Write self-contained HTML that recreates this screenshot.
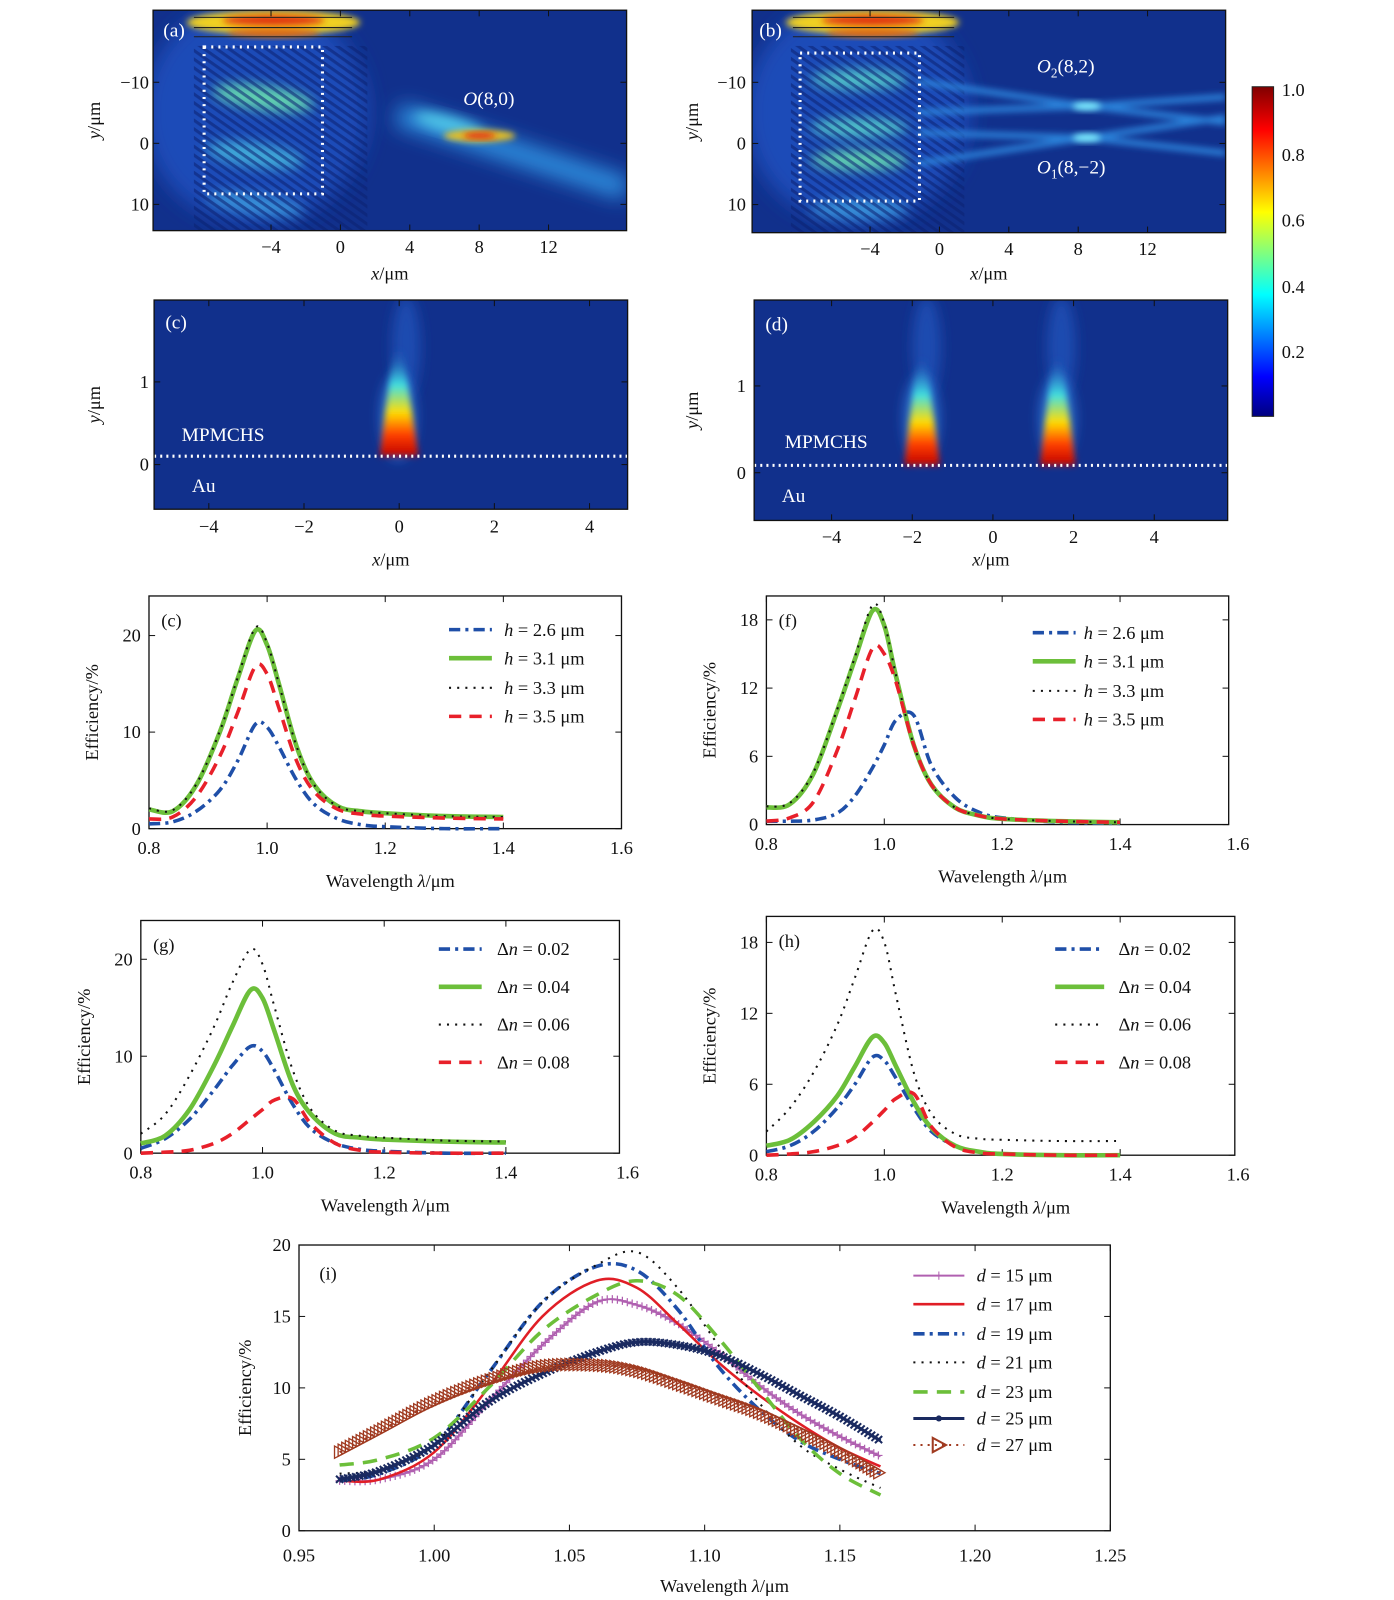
<!DOCTYPE html>
<html><head><meta charset="utf-8">
<style>
html,body{margin:0;padding:0;background:#fff;}
svg{display:block;font-family:"Liberation Serif",serif;}
</style></head>
<body>
<svg id="fig" xmlns="http://www.w3.org/2000/svg" width="1394" height="1600" viewBox="0 0 1394 1600">
<defs>
<filter id="b3" x="-50%" y="-50%" width="200%" height="200%"><feGaussianBlur stdDeviation="3"/></filter>
<filter id="b6" x="-50%" y="-50%" width="200%" height="200%"><feGaussianBlur stdDeviation="6"/></filter>
<filter id="b10" x="-50%" y="-50%" width="200%" height="200%"><feGaussianBlur stdDeviation="10"/></filter>
<clipPath id="ca"><rect x="150" y="10" width="464" height="216"/></clipPath>
<clipPath id="cb"><rect x="737" y="10" width="464" height="218"/></clipPath>
<clipPath id="cc"><rect x="151" y="294" width="464" height="205"/></clipPath>
<clipPath id="cd"><rect x="739" y="294" width="464" height="216"/></clipPath>
<pattern id="fringe" width="7" height="7" patternUnits="userSpaceOnUse" patternTransform="rotate(35)">
<rect width="7" height="3" fill="#0a2070" opacity="0.55"/>
</pattern>
<linearGradient id="jet" x1="0" y1="1" x2="0" y2="0">
<stop offset="0" stop-color="#00007f"/><stop offset="0.12" stop-color="#0000ff"/><stop offset="0.37" stop-color="#00ffff"/><stop offset="0.62" stop-color="#ffff00"/><stop offset="0.87" stop-color="#ff0000"/><stop offset="1" stop-color="#800000"/>
</linearGradient>
<linearGradient id="spot" x1="0" y1="1" x2="0" y2="0">
<stop offset="0" stop-color="#c00000"/><stop offset="0.2" stop-color="#ff4000"/><stop offset="0.4" stop-color="#ffdd00"/><stop offset="0.65" stop-color="#40e0e0"/><stop offset="1" stop-color="#2050c0" stop-opacity="0"/>
</linearGradient>
</defs>
<g id="root" transform="scale(1.0205)">

<!-- Panel (a) -->
<g>
<g clip-path="url(#ca)">
<rect x="150" y="10" width="464" height="216" fill="#11308c"/>
<ellipse cx="250" cy="110" rx="110" ry="110" fill="#1c4cb8" filter="url(#b10)"/>
<ellipse cx="268" cy="22" rx="85" ry="12" fill="#f0d020" filter="url(#b3)"/>
<ellipse cx="268" cy="20" rx="50" ry="5" fill="#e03010" filter="url(#b3)"/>
<ellipse cx="268" cy="32" rx="45" ry="4" fill="#e06010" filter="url(#b3)"/>
<line x1="190" y1="17" x2="345" y2="17" stroke="#202020" stroke-width="1"/>
<line x1="190" y1="27" x2="345" y2="27" stroke="#202020" stroke-width="1"/>
<line x1="190" y1="36" x2="345" y2="36" stroke="#202020" stroke-width="1"/>
<ellipse cx="258" cy="96" rx="50" ry="12" fill="#60d0b0" filter="url(#b6)" transform="rotate(8 258 96)"/>
<ellipse cx="250" cy="152" rx="48" ry="12" fill="#40a8d8" filter="url(#b6)" transform="rotate(8 250 152)"/>
<ellipse cx="250" cy="200" rx="48" ry="10" fill="#3890d8" filter="url(#b6)" transform="rotate(8 250 200)"/>
<rect x="190" y="45" width="170" height="181" fill="url(#fringe)"/>
<line x1="390" y1="112" x2="614" y2="185" stroke="#2e90e0" stroke-width="22" filter="url(#b10)"/>
<ellipse cx="440" cy="122" rx="35" ry="8" fill="#50c8e8" filter="url(#b6)" transform="rotate(15 440 122)"/>
<ellipse cx="470" cy="133" rx="35" ry="6" fill="#e8c020" filter="url(#b3)"/>
<ellipse cx="470" cy="133" rx="16" ry="3" fill="#e02010" filter="url(#b3)"/>
<rect x="200" y="46" width="116" height="144" fill="none" stroke="#fff" stroke-width="3" stroke-dasharray="2 5"/>
</g>
<text x="160" y="36" fill="#fff" font-size="19">(a)</text>
<text x="454" y="103" fill="#fff" font-size="19"><tspan font-style="italic">O</tspan>(8,0)</text>
</g>

<!-- Panel (b) -->
<g>
<g clip-path="url(#cb)">
<rect x="737" y="10" width="464" height="218" fill="#11308c"/>
<ellipse cx="840" cy="110" rx="110" ry="110" fill="#1c4cb8" filter="url(#b10)"/>
<ellipse cx="855" cy="22" rx="85" ry="12" fill="#f0d020" filter="url(#b3)"/>
<ellipse cx="855" cy="20" rx="50" ry="5" fill="#e03010" filter="url(#b3)"/>
<ellipse cx="855" cy="32" rx="45" ry="4" fill="#e06010" filter="url(#b3)"/>
<line x1="777" y1="17" x2="935" y2="17" stroke="#202020"/>
<line x1="777" y1="27" x2="935" y2="27" stroke="#202020"/>
<line x1="777" y1="36" x2="935" y2="36" stroke="#202020"/>
<ellipse cx="842" cy="78" rx="48" ry="10" fill="#50c0c8" filter="url(#b6)"/>
<ellipse cx="842" cy="125" rx="48" ry="10" fill="#50c0c8" filter="url(#b6)"/>
<ellipse cx="842" cy="157" rx="48" ry="10" fill="#60d0b0" filter="url(#b6)"/>
<ellipse cx="842" cy="205" rx="48" ry="10" fill="#3890d8" filter="url(#b6)"/>
<rect x="775" y="45" width="170" height="183" fill="url(#fringe)"/>
<path d="M900 80 L1065 104 L1201 95 M900 160 L1065 135 L1201 150 M900 110 L1065 104 L1201 120 M900 130 L1065 135 L1201 115" stroke="#2a80d8" stroke-width="6" fill="none" filter="url(#b3)"/>
<ellipse cx="1065" cy="104" rx="14" ry="4" fill="#80f0ff" filter="url(#b3)"/>
<ellipse cx="1065" cy="135" rx="14" ry="4" fill="#80f0ff" filter="url(#b3)"/>
<rect x="784" y="52" width="117" height="145" fill="none" stroke="#fff" stroke-width="3" stroke-dasharray="2 5"/>
</g>
<text x="744" y="36" fill="#fff" font-size="19">(b)</text>
<text x="1016" y="71" fill="#fff" font-size="19"><tspan font-style="italic">O</tspan><tspan font-size="13" dy="5">2</tspan><tspan dy="-5">(8,2)</tspan></text>
<text x="1016" y="170" fill="#fff" font-size="19"><tspan font-style="italic">O</tspan><tspan font-size="13" dy="5">1</tspan><tspan dy="-5">(8,−2)</tspan></text>
</g>

<!-- Colorbar -->
<g>
<rect x="1227" y="85" width="21" height="323" fill="url(#jet)" stroke="#222" stroke-width="1"/>
<g font-size="18" fill="#111">
<text x="1256" y="94">1.0</text><text x="1256" y="158">0.8</text><text x="1256" y="222">0.6</text><text x="1256" y="287">0.4</text><text x="1256" y="351">0.2</text>
</g>
</g>

<!-- Panel (c) top -->
<g>
<g clip-path="url(#cc)">
<rect x="151" y="294" width="464" height="205" fill="#11308c"/>
<ellipse cx="398" cy="340" rx="14" ry="50" fill="#1e4cb0" filter="url(#b6)"/>
<ellipse cx="390" cy="408" rx="17" ry="42" fill="#2a70d0" filter="url(#b6)"/>
<path d="M372 447 L386 340 L394 340 L410 447 Z" fill="url(#spot)" filter="url(#b3)"/>
<line x1="151" y1="447" x2="615" y2="447" stroke="#fff" stroke-width="3" stroke-dasharray="2 4"/>
</g>
<text x="162" y="322" fill="#fff" font-size="19">(c)</text>
<text x="178" y="432" fill="#fff" font-size="19">MPMCHS</text>
<text x="188" y="482" fill="#fff" font-size="19">Au</text>
</g>

<!-- Panel (d) -->
<g>
<g clip-path="url(#cd)">
<rect x="739" y="294" width="464" height="216" fill="#11308c"/>
<ellipse cx="908" cy="340" rx="14" ry="50" fill="#1e4cb0" filter="url(#b6)"/>
<ellipse cx="1040" cy="340" rx="14" ry="50" fill="#1e4cb0" filter="url(#b6)"/>
<ellipse cx="903" cy="410" rx="17" ry="42" fill="#2a70d0" filter="url(#b6)"/>
<ellipse cx="1036" cy="410" rx="17" ry="42" fill="#2a70d0" filter="url(#b6)"/>
<path d="M886 456 L899 350 L907 350 L921 456 Z" fill="url(#spot)" filter="url(#b3)"/>
<path d="M1019 456 L1032 350 L1040 350 L1054 456 Z" fill="url(#spot)" filter="url(#b3)"/>
<line x1="739" y1="456" x2="1203" y2="456" stroke="#fff" stroke-width="3" stroke-dasharray="2 4"/>
</g>
<text x="750" y="324" fill="#fff" font-size="19">(d)</text>
<text x="769" y="439" fill="#fff" font-size="19">MPMCHS</text>
<text x="766" y="492" fill="#fff" font-size="19">Au</text>
</g>
</g>
</svg>

<script>
// ---------- data ----------
const lam = [0.8,0.84,0.88,0.92,0.95,0.98,1.0,1.02,1.05,1.08,1.12,1.16,1.2,1.3,1.4];
const eH26 = [0.5,0.7,1.8,4,7,10.8,10.5,8.5,5,2.5,1,0.4,0.2,0,0];
const eH31 = [2,1.8,4.5,10,15.5,20.5,19,15,8.5,4.5,2.3,1.8,1.6,1.3,1.2];
const eH33 = [2.1,1.9,4.6,10.1,15.6,20.8,19.2,15,8.5,4.5,2.3,1.8,1.6,1.3,1.2];
const eH35 = [1,1.2,3.3,7.5,12,16.8,16,12.5,7,3.8,2,1.5,1.3,1.1,1];
const fH26 = [0.3,0.3,0.4,1,2.5,5,7,9.2,9.6,5.2,2.4,1.1,0.6,0.2,0.1];
const fH31 = [1.5,1.8,4.5,10,14.5,18.8,17.5,13,7,3.5,1.5,0.8,0.5,0.3,0.2];
const fH33 = [1.6,1.9,4.6,10.1,14.7,19.3,17.7,13.1,7,3.5,1.5,0.8,0.5,0.3,0.2];
const fH35 = [0.3,0.6,2,6.5,11,15.5,15,12.5,7,3.5,1.5,0.8,0.5,0.3,0.2];
const gN02 = [0.5,1.5,3.5,6.5,9,11,10.5,8.5,5,2.5,1,0.4,0.2,0,0];
const gN04 = [1,1.8,4.5,9,13,16.8,16,12.5,7,4,2,1.6,1.4,1.2,1.1];
const gN06 = [2,4,8,13,17.5,21,19.5,15,8.5,4.5,2.3,1.8,1.6,1.3,1.2];
const gN08 = [0,0.1,0.3,1,2,3.5,4.5,5.5,5.6,3,1,0.3,0.1,0,0];
const hN02 = [0.3,0.8,2,4,6,8.3,8,6.5,4,2,0.8,0.3,0.1,0,0];
const hN04 = [0.8,1.3,2.8,5,7.5,10,9.5,7.5,4.5,2.3,0.8,0.3,0.1,0,0];
const hN06 = [2,4,7,11,15,19,18,13.5,7,3.5,1.8,1.4,1.3,1.2,1.2];
const hN08 = [0,0.1,0.3,0.8,1.5,2.8,3.8,4.8,5.2,2.4,0.7,0.2,0.1,0,0];
const lamI = [0.965,0.98,1.0,1.02,1.04,1.06,1.075,1.09,1.105,1.12,1.135,1.15,1.165];
const d15 = [3.5,3.6,5,9,13,16,15.8,14.5,12.5,10.2,8.2,6.6,5.2];
const d17 = [3.5,3.6,5.5,10,15,17.5,17,14.5,11.8,9.5,7.5,5.8,4.5];
const d19 = [3.5,4,6,11,16,18.5,18.2,15.5,11.5,8.5,6.3,5,4];
const d21 = [4,4.3,6,11,16,18.6,19.5,17,13,9,6,4.3,3];
const d23 = [4.6,5,6.5,10,14,16.5,17.5,16.5,13.5,10,6.5,4,2.5];
const d25 = [3.6,4.2,6,9,11,12.5,13.2,13,12.3,11,9.5,8,6.3];
const d27 = [5.5,7,9,10.5,11.5,11.6,11.2,10.3,9.3,8.3,7,5.6,4];
const lamTicks = [0.8,1.0,1.2,1.4,1.6];
const lamTickLabels = ['0.8','1.0','1.2','1.4','1.6'];
const eYTicks = [0,10,20];
const fYTicks = [0,6,12,18];
const iXTicks = [0.95,1.0,1.05,1.1,1.15,1.2,1.25];
const iXTickLabels = ['0.95','1.00','1.05','1.10','1.15','1.20','1.25'];
const iYTicks = [0,5,10,15,20];
const hLabels = ['2.6','3.1','3.3','3.5'];
const nLabels = ['0.02','0.04','0.06','0.08'];
const dLabels = ['15','17','19','21','23','25','27'];
const abYTicks = [-10,0,10];
const abXTicks = [-4,0,4,8,12];
const cdYTicks = [0,1];
const cdXTicks = [-4,-2,0,2,4];

const NS = 'http://www.w3.org/2000/svg';
const svg = document.getElementById('root');
function el(tag, attrs, parent, name){
  const e = document.createElementNS(NS, tag);
  for (const k in attrs) e.setAttribute(k, attrs[k]);
  
  
  (parent||svg).appendChild(e);
  return e;
}
function txt(s, x, y, parent, name, extra){
  const t = el('text', Object.assign({x:x, y:y, 'font-size':18, fill:'#111'}, extra||{}), parent, name);
  t.innerHTML = s;
  return t;
}
function lin(d0,d1,p0,p1){ return v => p0 + (v-d0)*(p1-p0)/(d1-d0); }
function smooth(xs, ys, X, Y){
  const p = xs.map((x,i)=>[X(x),Y(ys[i])]);
  let d = 'M'+p[0][0].toFixed(1)+' '+p[0][1].toFixed(1);
  for (let i=0;i<p.length-1;i++){
    const a=p[Math.max(0,i-1)], b=p[i], c=p[i+1], e=p[Math.min(p.length-1,i+2)];
    const c1=[b[0]+(c[0]-a[0])/6, b[1]+(c[1]-a[1])/6];
    const c2=[c[0]-(e[0]-b[0])/6, c[1]-(e[1]-b[1])/6];
    d += ' C'+c1.map(v=>v.toFixed(1)).join(' ')+' '+c2.map(v=>v.toFixed(1)).join(' ')+' '+c[0].toFixed(1)+' '+c[1].toFixed(1);
  }
  return d;
}
const STY = {
  blue:{stroke:'#1f4fa8','stroke-width':3.5,'stroke-dasharray':'11 5 3 5'},
  green:{stroke:'#6cbf3a','stroke-width':4.5},
  dot:{stroke:'#111','stroke-width':2,'stroke-dasharray':'2 6'},
  red:{stroke:'#e8202a','stroke-width':3.5,'stroke-dasharray':'12 8'},
  magenta:{stroke:'#b060b0','stroke-width':2},
  redsolid:{stroke:'#e01e26','stroke-width':2.5},
  green2:{stroke:'#6cbf3a','stroke-width':3.5,'stroke-dasharray':'14 9'},
  navy:{stroke:'#1a2a60','stroke-width':3},
  brown:{stroke:'#a03a20','stroke-width':2,'stroke-dasharray':'2 5'}
};
function axesBox(g, box, name){
  el('rect',{x:box[0],y:box[1],width:box[2]-box[0],height:box[3]-box[1],fill:'none',stroke:'#111','stroke-width':1.3},g,name);
}
function ticksX(g, vals, labels, X, box, ly, name){
  vals.forEach((v,i)=>{
    const x = X(v);
    if (x <= box[2]+0.5) {
      el('line',{x1:x,y1:box[3],x2:x,y2:box[3]-6,stroke:'#111'},g,'x-tick');
      el('line',{x1:x,y1:box[1],x2:x,y2:box[1]+6,stroke:'#111'},g,'x-tick');
    }
    txt(labels[i], x, ly, g, name, {'text-anchor':'middle'});
  });
}
function ticksY(g, vals, labels, Y, box, lx, name){
  vals.forEach((v,i)=>{
    const y = Y(v);
    el('line',{x1:box[0],y1:y,x2:box[0]+6,y2:y,stroke:'#111'},g,'y-tick');
    el('line',{x1:box[2],y1:y,x2:box[2]-6,y2:y,stroke:'#111'},g,'y-tick');
    txt(labels[i], lx, y+6, g, name, {'text-anchor':'end'});
  });
}
function ylabel(g, s, x, y, name){
  txt(s, x, y, g, name, {'text-anchor':'middle', transform:'rotate(-90 '+x+' '+y+')'});
}
function markers(g, path, kind, color, step){
  const L = path.getTotalLength();
  for (let s=0; s<=L; s+=step){
    const p = path.getPointAtLength(s);
    if (kind==='plus') el('path',{d:'M'+(p.x-4)+' '+p.y+'h8M'+p.x+' '+(p.y-4)+'v8',stroke:color,'stroke-width':1.2,fill:'none'},g,'marker-plus');
    else if (kind==='x') el('path',{d:'M'+(p.x-3.5)+' '+(p.y-3.5)+'l7 7M'+(p.x-3.5)+' '+(p.y+3.5)+'l7 -7',stroke:color,'stroke-width':2,fill:'none'},g,'marker-x');
    else el('path',{d:'M'+(p.x-5)+' '+(p.y-6)+'L'+(p.x+6)+' '+p.y+'L'+(p.x-5)+' '+(p.y+6)+'Z',stroke:color,'stroke-width':1.3,fill:'none'},g,'marker-triangle');
  }
}

function heatAxes(name, box, xd, yd, xt, yt, lyX, lxY, xlabY, ylabX){
  const g = el('g',{},svg,name);
  const X = lin(xd[0],xd[1],box[0],box[2]), Y = lin(yd[0],yd[1],box[1],box[3]);
  axesBox(g, box, 'plot-frame');
  ticksX(g, xt, xt.map(v=>v<0?'−'+(-v):''+v), X, box, lyX, 'x-tick-label');
  ticksY(g, yt, yt.map(v=>v<0?'−'+(-v):''+v), Y, box, lxY, 'y-tick-label');
  txt('<tspan font-style="italic">x</tspan>/μm', (box[0]+box[2])/2, xlabY, g, 'x-axis-title', {'text-anchor':'middle'});
  ylabel(g, '<tspan font-style="italic">y</tspan>/μm', ylabX, (box[1]+box[3])/2, 'y-axis-title');
}
heatAxes('axes-a',[150,10,614,226],[-10.8,16.5],[-21.8,14.3],abXTicks,abYTicks,248,146,274,98);
heatAxes('axes-b',[737,10,1201,228],[-10.8,16.5],[-21.8,14.6],abXTicks,abYTicks,250,731,274,684);
heatAxes('axes-c',[151,294,615,499],[-5.15,4.8],[1.99,-0.54],cdXTicks,cdYTicks,522,146,554,98);
heatAxes('axes-d',[739,294,1203,510],[-5.92,5.82],[1.99,-0.55],cdXTicks,cdYTicks,532,731,554,684);

function lineChart(name, box, xr, yr, yt, series, legend, label, tag){
  const g = el('g',{},svg,name);
  const X = lin(xr[0],xr[1],box[0],box[0]+(box[2]-box[0])*(xr[2]||1));
  const Y = lin(yr[0],yr[1],box[3],box[1]);
  axesBox(g, box, 'plot-frame');
  ticksX(g, lamTicks, lamTickLabels, X, box, box[3]+25, 'x-tick-label');
  ticksY(g, yt, yt.map(String), Y, box, box[0]-8, 'y-tick-label');
  txt('Wavelength <tspan font-style="italic">λ</tspan>/μm', (box[0]+box[2])/2+5, box[3]+57, g, 'x-axis-title', {'text-anchor':'middle'});
  ylabel(g, 'Efficiency/%', box[0]-50, (box[1]+box[3])/2, 'y-axis-title');
  txt(tag, box[0]+12, box[1]+30, g, 'panel-label');
  series.forEach((s,i)=>{
    el('path', Object.assign({d:smooth(lam, s[0], X, Y), fill:'none'}, STY[s[1]]), g, 'series-line');
    const ly = legend.rows[i];
    el('line', Object.assign({x1:legend.x0,y1:ly,x2:legend.x1,y2:ly}, STY[s[1]]), g, 'legend-swatch');
    txt(label(i), legend.tx, ly+6, g, 'legend-entry');
  });
}
const hLab = i => '<tspan font-style="italic">h</tspan> = '+hLabels[i]+' μm';
const nLab = i => 'Δ<tspan font-style="italic">n</tspan> = '+nLabels[i];
lineChart('chart-c',[146,584,609,812],[0.8,1.6],[0,24.1],eYTicks,
  [[eH26,'blue'],[eH31,'green'],[eH33,'dot'],[eH35,'red']],
  {x0:440,x1:482,tx:494,rows:[617,645,674,702]}, hLab, '(c)');
lineChart('chart-f',[751,584,1204,808],[0.8,1.6,1.02],[0,20.1],fYTicks,
  [[fH26,'blue'],[fH31,'green'],[fH33,'dot'],[fH35,'red']],
  {x0:1012,x1:1054,tx:1062,rows:[620,648,677,705]}, hLab, '(f)');
lineChart('chart-g',[138,902,607,1130],[0.8,1.6,1.017],[0,24],eYTicks,
  [[gN02,'blue'],[gN04,'green'],[gN06,'dot'],[gN08,'red']],
  {x0:430,x1:472,tx:487,rows:[930,967,1004,1041]}, nLab, '(g)');
lineChart('chart-h',[751,898,1210,1132],[0.8,1.6,1.007],[0,20.2],fYTicks,
  [[hN02,'blue'],[hN04,'green'],[hN06,'dot'],[hN08,'red']],
  {x0:1034,x1:1082,tx:1096,rows:[930,967,1004,1041]}, nLab, '(h)');

(function(){
  const box=[293,1220,1088,1500];
  const g = el('g',{},svg,'chart-i');
  const X = lin(0.95,1.25,box[0],box[2]), Y = lin(0,20,box[3],box[1]);
  axesBox(g, box, 'plot-frame');
  ticksX(g, iXTicks, iXTickLabels, X, box, box[3]+30, 'x-tick-label');
  ticksY(g, iYTicks, iYTicks.map(String), Y, box, box[0]-8, 'y-tick-label');
  txt('Wavelength <tspan font-style="italic">λ</tspan>/μm', 710, 1560, g, 'x-axis-title', {'text-anchor':'middle'});
  ylabel(g, 'Efficiency/%', 246, 1360, 'y-axis-title');
  txt('(i)', 313, 1254, g, 'panel-label');
  const ser = [[d15,'magenta','plus','#b060b0'],[d17,'redsolid'],[d19,'blue'],[d21,'dot'],[d23,'green2'],[d25,'navy','x','#1a2a60'],[d27,'brown','tri','#a03a20']];
  const rows=[1250,1278,1307,1335,1364,1390,1416];
  ser.forEach((s,i)=>{
    const p = el('path', Object.assign({d:smooth(lamI, s[0], X, Y), fill:'none'}, STY[s[1]]), g, 'series-line');
    if (s[2]) markers(g, p, s[2], s[3], s[2]==='plus'?5:4);
    el('line', Object.assign({x1:895,y1:rows[i],x2:945,y2:rows[i]}, STY[s[1]]), g, 'legend-swatch');
    if (s[2]==='plus') el('path',{d:'M916 '+rows[i]+'h8M920 '+(rows[i]-4)+'v8',stroke:s[3],fill:'none'},g,'legend-marker');
    if (s[2]==='x') el('circle',{cx:920,cy:rows[i],r:3,fill:s[3]},g,'legend-marker');
    if (s[2]==='tri') el('path',{d:'M914 '+(rows[i]-7)+'L927 '+rows[i]+'L914 '+(rows[i]+7)+'Z',stroke:s[3],'stroke-width':2,fill:'none'},g,'legend-marker');
    txt('<tspan font-style="italic">d</tspan> = '+dLabels[i]+' μm', 957, rows[i]+6, g, 'legend-entry');
  });
})();
</script>
</body></html>
